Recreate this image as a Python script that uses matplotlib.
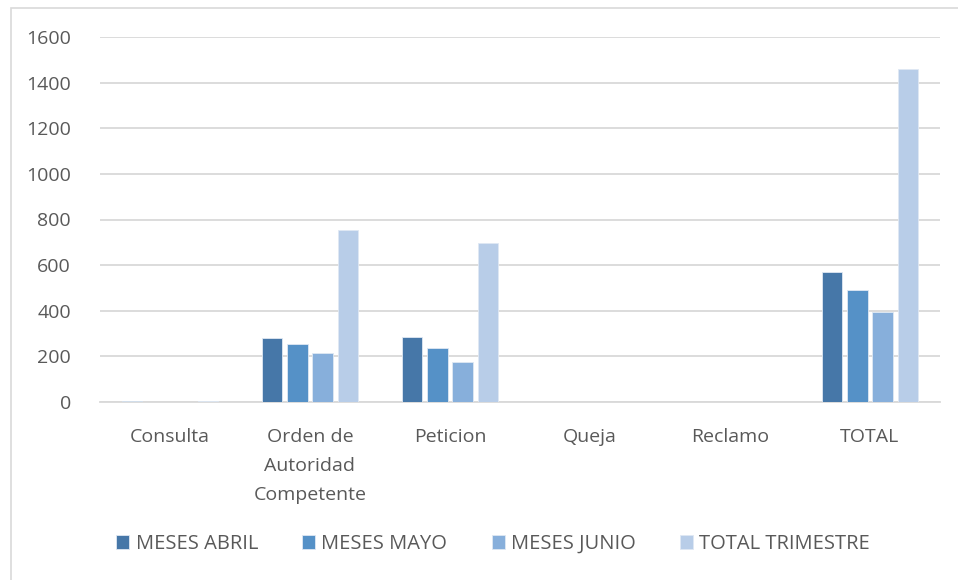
import matplotlib
matplotlib.use('Agg')
import matplotlib.pyplot as plt
import numpy as np
from matplotlib.patches import Rectangle

categories = ["Consulta", "Orden de\nAutoridad\nCompetente", "Peticion", "Queja", "Reclamo", "TOTAL"]
abril = [3, 280, 285, 0, 0, 569]
mayo = [0, 254, 235, 2, 1, 492]
junio = [2, 216, 176, 0, 0, 394]
total_trimestre = [5, 754, 697, 2, 1, 1460]
series_names = ["MESES ABRIL", "MESES MAYO", "MESES JUNIO", "TOTAL TRIMESTRE"]
colors = ["#4677a8", "#5591c7", "#87afdb", "#b8cde8"]

plt.rcParams['font.family'] = ['Open Sans', 'DejaVu Sans']
text_color = "#595959"

fig = plt.figure(figsize=(9.58, 5.8), dpi=100)
ax = fig.add_axes([100/958, 1 - 402/580, 840/958, 365/580])

# chart area border (only left and top visible in the reference)
fig.patches.append(Rectangle((11/958, -0.1), 1.2, 1 - 8/580 + 0.1, transform=fig.transFigure,
                             fill=False, edgecolor="#d9d9d9", linewidth=1.2))

x = np.arange(len(categories))
width = 0.145
step = 0.18
for i, (vals, name) in enumerate(zip([abril, mayo, junio, total_trimestre], series_names)):
    ax.bar(x + (i - 1.5) * step, vals, width, color=colors[i], label=name,
           edgecolor="#dfe8f3", linewidth=0.6, zorder=3)

ax.set_xlim(-0.5, len(categories) - 0.5)
ax.set_ylim(0, 1600)
ax.set_yticks(range(0, 1601, 200))
ax.yaxis.grid(True, color="#d9d9d9", linewidth=1.3, zorder=0)
ax.set_axisbelow(True)
for s in ["top", "right", "left"]:
    ax.spines[s].set_visible(False)
ax.spines["bottom"].set_color("#d9d9d9")
ax.spines["bottom"].set_linewidth(1.3)
ax.tick_params(axis="both", length=0, colors=text_color, labelsize=14)
ax.tick_params(axis="y", pad=21)
ax.tick_params(axis="x", pad=19)
ax.set_xticks(x)
ax.set_xticklabels(categories, linespacing=1.78, va="top")

handles, labels = ax.get_legend_handles_labels()
fig.legend(handles, labels, loc="center", bbox_to_anchor=(493/958, 1 - 544/580), ncol=4,
           frameon=False, fontsize=14.5, handlelength=0.65, handleheight=0.75,
           handletextpad=0.3, columnspacing=2.2, labelcolor=text_color)

fig.savefig("out.png", dpi=100)
